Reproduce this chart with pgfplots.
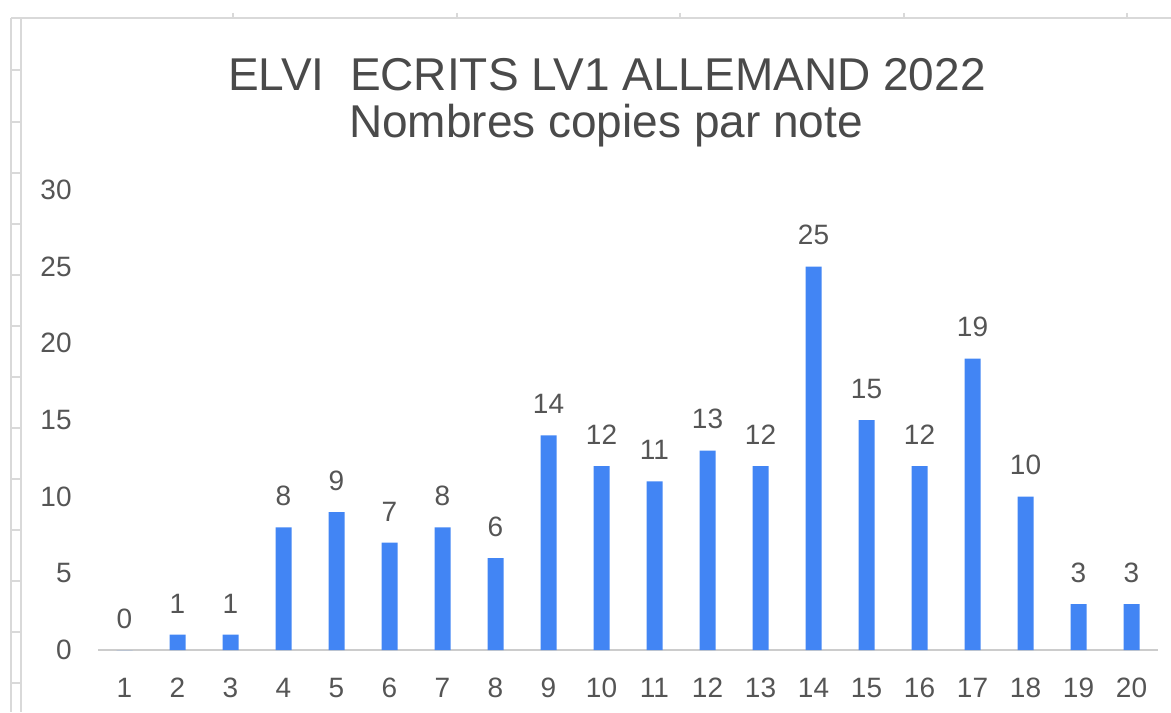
\documentclass[border=0pt]{standalone}
\usepackage{pgfplots}
\pgfplotsset{compat=1.18}
\usepackage{fontspec}
\setmainfont{Liberation Sans}
\definecolor{barblue}{HTML}{4285F4}
\definecolor{txt}{HTML}{555555}
\definecolor{ttl}{HTML}{4A4A4A}
\definecolor{frame}{HTML}{D9D9D9}
\definecolor{base}{HTML}{CCCCCC}
\begin{document}
\begin{tikzpicture}
\useasboundingbox (0,0) rectangle (585.5pt,356pt);
% spreadsheet frame decoration
\begin{scope}[x=0.5pt,y=-0.5pt,shift={(0pt,356pt)},draw=frame,line width=0.6pt]
\draw (11,18) -- (11,712);
\draw (21,18) -- (21,712);
\draw (11,18) -- (1171,18);
\foreach \yy in {70,122,173,224,275,326,377,428,479,530,581,632,683}{\draw (11,\yy) -- (21,\yy);}
\foreach \xx in {233,457,680,904,1127}{\draw (\xx,13) -- (\xx,18);}
\end{scope}
\begin{axis}[
  at={(49pt,31pt)}, anchor=south west,
  scale only axis, width=530pt, height=230pt,
  xmin=0.5, xmax=20.5, ymin=0, ymax=30,
  axis x line=bottom, axis y line=left,
  x axis line style={draw=base,-,line width=0.8pt},
  y axis line style={draw=none},
  major tick length=0pt,
  xtick={1,...,20}, ytick={0,5,...,30},
  ticklabel style={font=\fontsize{14}{16}\selectfont, text=txt},
  xticklabel style={anchor=north, inner sep=0pt, yshift=-14pt},
  yticklabel style={anchor=east, inner sep=0pt, xshift=-13pt},
  /pgf/number format/assume math mode=true,
  clip=false,
  ybar, bar width=8pt,
  nodes near coords,
  every node near coord/.append style={font=\fontsize{14}{16}\selectfont, text=txt, anchor=south, inner sep=0pt, yshift=10.5pt},
]
\addplot[fill=barblue, draw=none] coordinates {
(1,0) (2,1) (3,1) (4,8) (5,9) (6,7) (7,8) (8,6) (9,14) (10,12)
(11,11) (12,13) (13,12) (14,25) (15,15) (16,12) (17,19) (18,10) (19,3) (20,3)};
\end{axis}
\node[text=ttl, font=\fontsize{23}{28}\selectfont] at (303.5pt,318.5pt) {ELVI\ \ ECRITS LV1 ALLEMAND 2022};
\node[text=ttl, font=\fontsize{23}{28}\selectfont] at (303pt,293pt) {Nombres copies par note};
\end{tikzpicture}
\end{document}
